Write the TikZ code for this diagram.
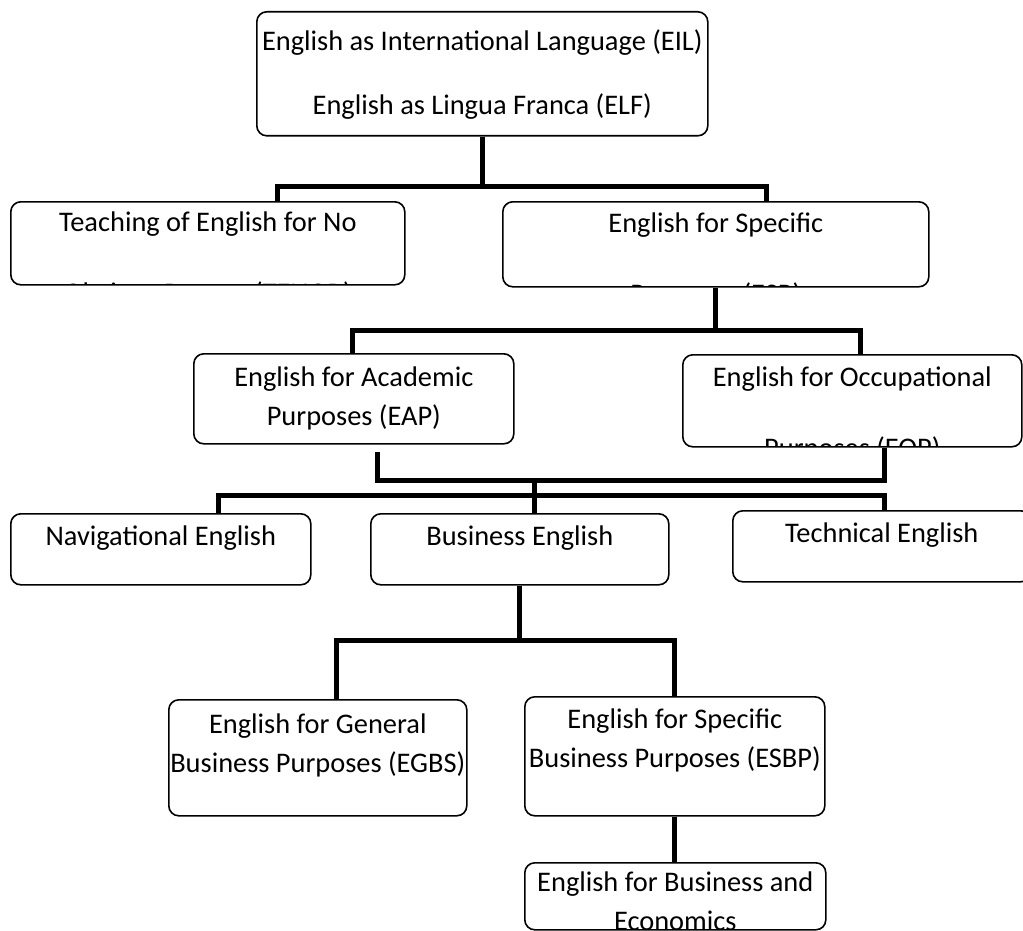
\documentclass[tikz,border=0pt]{standalone}
\usepackage{fontspec}
\setmainfont{Carlito}
\usetikzlibrary{calc}
\tikzset{
    box/.style={draw, line width=0.8pt, rounded corners=5pt, anchor=north west, inner sep=0pt},
    words/.style={anchor=north, align=center, inner sep=0pt, minimum size=0pt, draw=none, rounded corners=0pt, font=\fontsize{14.2}{19.5}\selectfont},
    link/.style={line width=2.5pt, line join=miter}
}
\newcommand{\inbox}[2]{\node[words] at ([yshift=-#1]path picture bounding box.north) {#2};}

\begin{document}
\begin{tikzpicture}[x=0.5pt, y=-0.5pt]
    \path[use as bounding box, fill=white] (0,0) rectangle (1023,931);
    \node[box, minimum width=225.5pt, minimum height=62pt, path picture={\inbox{8.5pt}{English as International Language (EIL)\\[12.5pt]English as Lingua Franca (ELF)}}] (top) at (256,11) {};
    \node[box, minimum width=197pt, minimum height=41.5pt, path picture={\inbox{4.5pt}{Teaching of English for No\\[16pt]Obvious Reason (TENOR)}}] (tenor) at (10,201) {};
    \node[box, minimum width=213pt, minimum height=42.5pt, path picture={\inbox{5pt}{English for Specific\\[16pt]Purposes (ESP)}}] (esp) at (502,201) {};
    \node[box, minimum width=160pt, minimum height=45pt, path picture={\inbox{6pt}{English for Academic\\Purposes (EAP)}}] (eap) at (193,353) {};
    \node[box, minimum width=169.5pt, minimum height=46pt, path picture={\inbox{5.5pt}{English for Occupational\\[16pt]Purposes (EOP)}}] (eop) at (682,354) {};
    \node[box, minimum width=150pt, minimum height=35.5pt, path picture={\inbox{5.5pt}{Navigational English}}] (nav) at (10,513) {};
    \node[box, minimum width=149pt, minimum height=35.5pt, path picture={\inbox{5.5pt}{Business English}}] (busi) at (370,513) {};
    \node[box, minimum width=149pt, minimum height=35.5pt, path picture={\inbox{5.5pt}{Technical English}}] (tech) at (732,510) {};
    \node[box, minimum width=149pt, minimum height=58pt, path picture={\inbox{6.5pt}{English for General\\Business Purposes (EGBS)}}] (egbs) at (168,699) {};
    \node[box, minimum width=150pt, minimum height=59.5pt, path picture={\inbox{5.5pt}{English for Specific\\Business Purposes (ESBP)}}] (esbp) at (524,696) {};
    \node[box, minimum width=150.5pt, minimum height=33.5pt, path picture={\inbox{4pt}{English for Business and\\Economics}}] (econ) at (524,862) {};

    \coordinate (a1) at (277,186);
    \coordinate (a2) at (766,186);
    \draw[link] (top.south) -- (top.south |- a1);
    \draw[link] (tenor.north -| a1) -- (a1) -- (a2) -- (esp.north -| a2);

    \coordinate (b1) at (352,330);
    \coordinate (b2) at (860,330);
    \draw[link] (esp.south) -- (esp.south |- b1);
    \draw[link] (eap.north -| b1) -- (b1) -- (b2) -- (eop.north -| b2);

    \coordinate (c1) at (377,480);
    \coordinate (c2) at (884,480);
    \draw[link] ($(eap.south -| c1)+(0,7)$) -- (c1) -- (c2) -- (eop.south -| c2);

    \coordinate (d0) at (534,480);
    \coordinate (d1) at (218,495);
    \coordinate (d2) at (884,495);
    \draw[link] (d0) -- (busi.north -| d0);
    \draw[link] (nav.north -| d1) -- (d1) -- (d2) -- (tech.north -| d2);

    \coordinate (e1) at (336,640);
    \coordinate (e2) at (674,640);
    \draw[link] (busi.south) -- (busi.south |- e1);
    \draw[link] (egbs.north -| e1) -- (e1) -- (e2) -- (esbp.north -| e2);
    \draw[link] (esbp.south) -- (esbp.south |- econ.north);
\end{tikzpicture}
\end{document}
